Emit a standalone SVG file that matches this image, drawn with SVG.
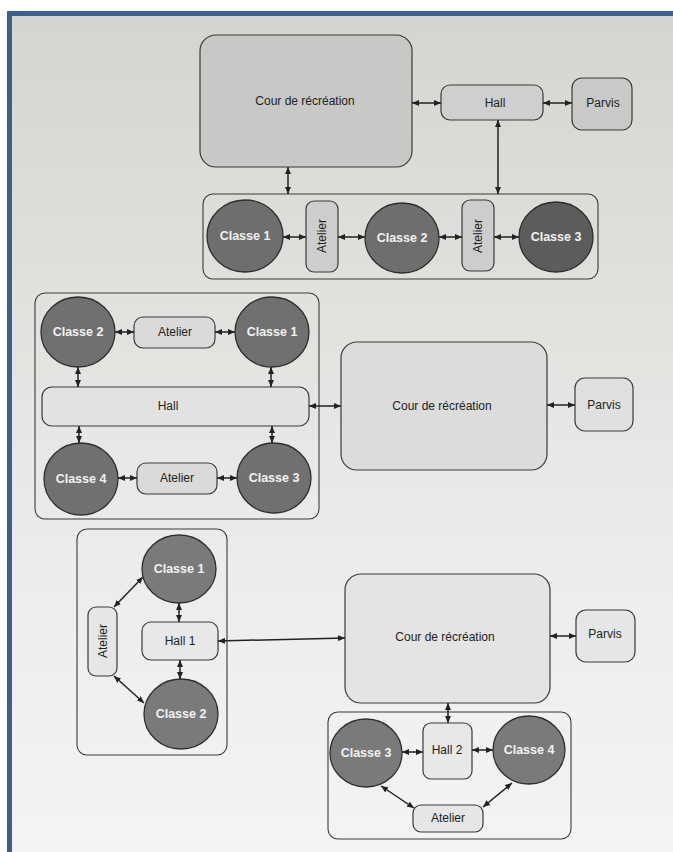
<svg xmlns="http://www.w3.org/2000/svg" width="673" height="852" viewBox="0 0 673 852">
<defs>
<linearGradient id="bg" x1="0" y1="0" x2="0" y2="1">
<stop offset="0" stop-color="#d6d4cf"/>
<stop offset="0.35" stop-color="#e2e1de"/>
<stop offset="0.65" stop-color="#ececec"/>
<stop offset="1" stop-color="#f4f4f4"/>
</linearGradient>
<marker id="ah" markerUnits="userSpaceOnUse" markerWidth="7" markerHeight="6" refX="7" refY="3" orient="auto-start-reverse">
<path d="M0,0 L7,3 L0,6 z" fill="#222"/>
</marker>
</defs>
<style>
.box{stroke:#3a3a3a;stroke-width:1.2}
.grp{fill:none;stroke:#3a3a3a;stroke-width:1.1}
.cls{stroke:#2e2e2e;stroke-width:1.3}
.t{font-family:"Liberation Sans",Arial,sans-serif;font-size:12px;fill:#222;text-anchor:middle;dominant-baseline:central}
.w{font-family:"Liberation Sans",Arial,sans-serif;font-size:12.5px;font-weight:bold;fill:#f2f2f2;text-anchor:middle;dominant-baseline:central}
.c{fill:none;stroke:#222;stroke-width:1.5;marker-start:url(#ah);marker-end:url(#ah)}
</style>
<rect x="0" y="0" width="673" height="852" fill="#ffffff"/>
<rect x="7" y="11" width="666" height="841" fill="url(#bg)"/>
<rect x="7" y="11" width="666" height="5" fill="#3d5f8f"/>
<rect x="7" y="11" width="5" height="841" fill="#3d5f8f"/>

<!-- Diagram 1 -->
<g id="d1-group"><rect class="grp" x="203" y="194" width="395" height="85" rx="10"/></g>
<g id="d1-cour"><rect class="box" x="200" y="35" width="212" height="132" rx="16" fill="#c8c8c7"/><text class="t" x="305" y="101">Cour de récréation</text></g>
<g id="d1-hall"><rect class="box" x="441" y="85" width="102" height="35" rx="9" fill="#cfcfce"/><text class="t" x="495" y="103">Hall</text></g>
<g id="d1-parvis"><rect class="box" x="572" y="78" width="60" height="52" rx="10" fill="#c9c9c8"/><text class="t" x="603" y="103">Parvis</text></g>
<g id="d1-classe1"><ellipse class="cls" cx="245" cy="236" rx="38" ry="36" fill="#6e6e6e"/><text class="w" x="245" y="236">Classe 1</text></g>
<g id="d1-atelier1"><rect class="box" x="306" y="201" width="32" height="71" rx="8" fill="#cdcdcd"/><text class="t" transform="translate(322,236) rotate(-90)">Atelier</text></g>
<g id="d1-classe2"><ellipse class="cls" cx="402" cy="238" rx="37" ry="35" fill="#6e6e6e"/><text class="w" x="402" y="238">Classe 2</text></g>
<g id="d1-atelier2"><rect class="box" x="462" y="200" width="32" height="71" rx="8" fill="#cdcdcd"/><text class="t" transform="translate(478,236) rotate(-90)">Atelier</text></g>
<g id="d1-classe3"><ellipse class="cls" cx="556" cy="237" rx="37" ry="35" fill="#5c5c5c"/><text class="w" x="556" y="237">Classe 3</text></g>

<!-- Diagram 2 -->
<g id="d2-group"><rect class="grp" x="35" y="293" width="284" height="226" rx="10"/></g>
<g id="d2-classe2"><ellipse class="cls" cx="78" cy="332" rx="37" ry="35" fill="#707070"/><text class="w" x="78" y="332">Classe 2</text></g>
<g id="d2-atelier1"><rect class="box" x="134" y="317" width="81" height="31" rx="9" fill="#dadada"/><text class="t" x="175" y="332">Atelier</text></g>
<g id="d2-classe1"><ellipse class="cls" cx="272" cy="332" rx="37" ry="35" fill="#707070"/><text class="w" x="272" y="332">Classe 1</text></g>
<g id="d2-hall"><rect class="box" x="42" y="387" width="267" height="39" rx="10" fill="#e2e2e2"/><text class="t" x="168" y="406">Hall</text></g>
<g id="d2-classe4"><ellipse class="cls" cx="81" cy="479" rx="37" ry="36" fill="#707070"/><text class="w" x="81" y="479">Classe 4</text></g>
<g id="d2-atelier2"><rect class="box" x="137" y="463" width="80" height="31" rx="9" fill="#dadada"/><text class="t" x="177" y="478">Atelier</text></g>
<g id="d2-classe3"><ellipse class="cls" cx="274" cy="478" rx="37" ry="35" fill="#707070"/><text class="w" x="274" y="478">Classe 3</text></g>
<g id="d2-cour"><rect class="box" x="341" y="342" width="206" height="128" rx="16" fill="#dcdcdc"/><text class="t" x="442" y="406">Cour de récréation</text></g>
<g id="d2-parvis"><rect class="box" x="575" y="378" width="58" height="53" rx="10" fill="#e0e0e0"/><text class="t" x="604" y="405">Parvis</text></g>

<!-- Diagram 3 -->
<g id="d3-group1"><rect class="grp" x="77" y="529" width="150" height="226" rx="10"/></g>
<g id="d3-classe1"><ellipse class="cls" cx="179" cy="569" rx="37" ry="34" fill="#7a7a7a"/><text class="w" x="179" y="569">Classe 1</text></g>
<g id="d3-atelier"><rect class="box" x="88" y="607" width="29" height="69" rx="8" fill="#e6e6e6"/><text class="t" transform="translate(103,641) rotate(-90)">Atelier</text></g>
<g id="d3-hall1"><rect class="box" x="142" y="622" width="76" height="38" rx="9" fill="#e8e8e8"/><text class="t" x="180" y="641">Hall 1</text></g>
<g id="d3-classe2"><ellipse class="cls" cx="181" cy="714" rx="37" ry="35" fill="#7a7a7a"/><text class="w" x="181" y="714">Classe 2</text></g>
<g id="d3-cour"><rect class="box" x="345" y="574" width="205" height="129" rx="16" fill="#e4e4e4"/><text class="t" x="445" y="637">Cour de récréation</text></g>
<g id="d3-parvis"><rect class="box" x="576" y="610" width="59" height="52" rx="10" fill="#e6e6e6"/><text class="t" x="605" y="634">Parvis</text></g>
<g id="d3-group2"><rect class="grp" x="328" y="712" width="243" height="127" rx="10"/></g>
<g id="d3-classe3"><ellipse class="cls" cx="366" cy="753" rx="36" ry="34" fill="#7a7a7a"/><text class="w" x="366" y="753">Classe 3</text></g>
<g id="d3-hall2"><rect class="box" x="423" y="723" width="49" height="56" rx="8" fill="#e8e8e8"/><text class="t" x="447" y="750">Hall 2</text></g>
<g id="d3-classe4"><ellipse class="cls" cx="529" cy="750" rx="36" ry="34" fill="#7a7a7a"/><text class="w" x="529" y="750">Classe 4</text></g>
<g id="d3-atelier2"><rect class="box" x="413" y="805" width="70" height="27" rx="8" fill="#e6e6e6"/><text class="t" x="448" y="818">Atelier</text></g>

<!-- Connectors -->
<g id="connectors">
<line class="c" x1="412" y1="103" x2="441" y2="103"/>
<line class="c" x1="543" y1="103" x2="572" y2="103"/>
<line class="c" x1="288" y1="167" x2="288" y2="194"/>
<line class="c" x1="498" y1="120" x2="498" y2="194"/>
<line class="c" x1="283" y1="237" x2="306" y2="237"/>
<line class="c" x1="338" y1="237" x2="365" y2="237"/>
<line class="c" x1="439" y1="237" x2="462" y2="237"/>
<line class="c" x1="494" y1="237" x2="519" y2="237"/>

<line class="c" x1="115" y1="332" x2="134" y2="332"/>
<line class="c" x1="215" y1="332" x2="235" y2="332"/>
<line class="c" x1="78" y1="367" x2="78" y2="387"/>
<line class="c" x1="271" y1="367" x2="271" y2="387"/>
<line class="c" x1="79" y1="426" x2="79" y2="443"/>
<line class="c" x1="272" y1="426" x2="272" y2="443"/>
<line class="c" x1="118" y1="478" x2="137" y2="478"/>
<line class="c" x1="217" y1="478" x2="237" y2="478"/>
<line class="c" x1="309" y1="406" x2="341" y2="406"/>
<line class="c" x1="547" y1="405" x2="575" y2="405"/>

<line class="c" x1="114" y1="607" x2="143" y2="577"/>
<line class="c" x1="114" y1="676" x2="144" y2="703"/>
<line class="c" x1="179" y1="603" x2="179" y2="622"/>
<line class="c" x1="180" y1="660" x2="180" y2="679"/>
<line class="c" x1="218" y1="641" x2="345" y2="638"/>
<line class="c" x1="550" y1="636" x2="576" y2="636"/>
<line class="c" x1="448" y1="703" x2="448" y2="723"/>
<line class="c" x1="402" y1="752" x2="423" y2="752"/>
<line class="c" x1="472" y1="750" x2="493" y2="750"/>
<line class="c" x1="381" y1="786" x2="414" y2="808"/>
<line class="c" x1="512" y1="783" x2="483" y2="807"/>
</g>
</svg>
